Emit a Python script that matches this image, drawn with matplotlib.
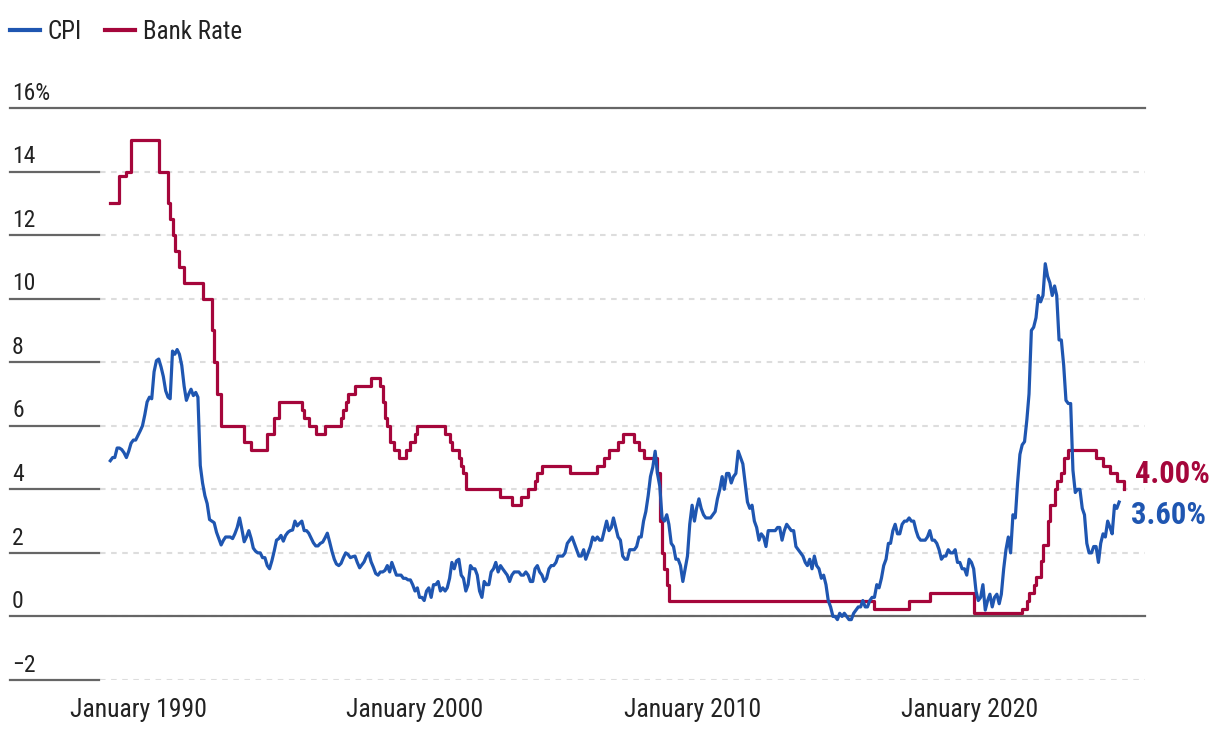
import matplotlib
matplotlib.use('Agg')
import matplotlib.pyplot as plt
import matplotlib.transforms as mtransforms
from matplotlib import font_manager
from matplotlib.lines import Line2D
import numpy as np
import pandas as pd

# UK CPI annual rate, monthly from January 1989
cpi_1989_1999 = [
    4.9, 5.0, 5.0, 5.3, 5.3, 5.25, 5.15, 5.0, 5.2, 5.45, 5.55, 5.55,
    5.7, 5.85, 6.0, 6.35, 6.75, 6.9, 6.85, 7.7, 8.05, 8.1, 7.85, 7.55,
    7.1, 6.9, 6.85, 8.35, 8.25, 8.4, 8.25, 7.9, 7.25, 6.8, 7.0, 7.15,
    6.95, 7.05, 6.9, 4.75, 4.2, 3.8, 3.55, 3.05, 3.0, 2.95, 2.65, 2.45,
    2.25, 2.4, 2.5, 2.5, 2.5, 2.45, 2.6, 2.8, 3.1, 2.75, 2.35, 2.5,
    2.7, 2.45, 2.15, 2.05, 2.0, 2.0, 1.85, 1.85, 1.6, 1.5, 1.75, 2.05,
    2.4, 2.45, 2.55, 2.37, 2.55, 2.65, 2.7, 2.72, 3.0, 2.85, 2.93, 3.0,
    2.7, 2.7, 2.62, 2.47, 2.32, 2.22, 2.22, 2.3, 2.34, 2.47, 2.62, 2.35,
    2.05, 1.8, 1.65, 1.6, 1.67, 1.85, 2.0, 1.95, 1.85, 1.88, 1.9, 1.7,
    1.53, 1.63, 1.72, 1.9, 2.0, 1.72, 1.55, 1.35, 1.3, 1.4, 1.4, 1.45,
    1.6, 1.4, 1.7, 1.5, 1.3, 1.3, 1.3, 1.2, 1.2, 1.15, 1.15, 1.0,
]
cpi_2000_2009 = [
    0.8, 0.9, 0.6, 0.6, 0.5, 0.8, 0.9, 0.6, 1.0, 1.0, 1.1, 0.8,
    0.9, 0.8, 0.9, 1.2, 1.7, 1.5, 1.75, 1.8, 1.3, 1.2, 0.8, 1.0,
    1.6, 1.5, 1.5, 1.3, 0.8, 0.6, 1.1, 1.0, 1.0, 1.4, 1.5, 1.7,
    1.4, 1.6, 1.5, 1.4, 1.3, 1.1, 1.3, 1.4, 1.4, 1.4, 1.3, 1.3,
    1.4, 1.3, 1.1, 1.1, 1.5, 1.6, 1.4, 1.3, 1.1, 1.2, 1.5, 1.6,
    1.6, 1.7, 1.9, 1.9, 1.9, 2.0, 2.3, 2.4, 2.5, 2.3, 2.1, 1.9,
    1.9, 2.1, 1.8, 2.0, 2.2, 2.5, 2.4, 2.5, 2.4, 2.4, 2.7, 3.0,
    2.7, 2.8, 3.1, 2.8, 2.5, 2.4, 1.9, 1.8, 1.8, 2.1, 2.1, 2.1,
    2.2, 2.5, 2.5, 3.0, 3.3, 3.8, 4.4, 4.7, 5.2, 4.5, 4.1, 3.1,
    3.0, 3.2, 2.9, 2.3, 2.2, 1.8, 1.8, 1.6, 1.1, 1.5, 1.9, 2.9,
]
cpi_2010_2019 = [
    3.5, 3.0, 3.4, 3.7, 3.4, 3.2, 3.1, 3.1, 3.1, 3.2, 3.3, 3.7,
    4.0, 4.4, 4.0, 4.5, 4.5, 4.2, 4.4, 4.5, 5.2, 5.0, 4.8, 4.2,
    3.6, 3.4, 3.5, 3.0, 2.8, 2.4, 2.6, 2.5, 2.2, 2.7, 2.7, 2.7,
    2.7, 2.8, 2.8, 2.4, 2.7, 2.9, 2.8, 2.7, 2.7, 2.2, 2.1, 2.0,
    1.9, 1.7, 1.6, 1.8, 1.5, 1.9, 1.6, 1.5, 1.2, 1.3, 1.0, 0.5,
    0.3, 0.0, 0.0, -0.1, 0.1, 0.0, 0.1, 0.0, -0.1, -0.1, 0.1, 0.2,
    0.3, 0.3, 0.5, 0.3, 0.3, 0.5, 0.6, 0.6, 1.0, 0.9, 1.2, 1.6,
    1.8, 2.3, 2.3, 2.7, 2.9, 2.6, 2.6, 2.9, 3.0, 3.0, 3.1, 3.0,
    3.0, 2.7, 2.5, 2.4, 2.4, 2.4, 2.5, 2.7, 2.4, 2.4, 2.3, 2.1,
    1.8, 1.9, 1.9, 2.1, 2.0, 2.0, 2.1, 1.7, 1.7, 1.5, 1.5, 1.3,
]
cpi_2020_2025 = [
    1.8, 1.7, 1.5, 0.8, 0.5, 0.6, 1.0, 0.2, 0.5, 0.7, 0.3, 0.6,
    0.7, 0.4, 0.7, 1.5, 2.1, 2.5, 2.0, 3.2, 3.1, 4.2, 5.1, 5.4,
    5.5, 6.2, 7.0, 9.0, 9.1, 9.4, 10.1, 9.9, 10.1, 11.1, 10.7, 10.5,
    10.1, 10.4, 10.1, 8.7, 8.7, 7.9, 6.8, 6.7, 6.7, 4.6, 3.9, 4.0,
    4.0, 3.4, 3.2, 2.3, 2.0, 2.0, 2.2, 2.2, 1.7, 2.3, 2.6, 2.5,
    3.0, 2.8, 2.6, 3.5, 3.4, 3.6,
]

# Bank Rate: month it changed and new level
bank_months = [
    '1989-01', '1989-05', '1989-08', '1989-10', '1990-10', '1991-02', '1991-03',
    '1991-04', '1991-05', '1991-07', '1991-09', '1992-05', '1992-09', '1992-10',
    '1992-11', '1993-01', '1993-11', '1994-02', '1994-09', '1994-12', '1995-02',
    '1995-12', '1996-01', '1996-03', '1996-06', '1996-10', '1997-05', '1997-06',
    '1997-07', '1997-08', '1997-11', '1998-06', '1998-10', '1998-11', '1998-12',
    '1999-01', '1999-02', '1999-04', '1999-06', '1999-09', '1999-11', '2000-01',
    '2000-02', '2001-02', '2001-04', '2001-05', '2001-08', '2001-09', '2001-10',
    '2001-11', '2003-02', '2003-07', '2003-11', '2004-02', '2004-05', '2004-06',
    '2004-08', '2005-08', '2006-08', '2006-11', '2007-01', '2007-05', '2007-07',
    '2007-12', '2008-02', '2008-04', '2008-10', '2008-11', '2008-12', '2009-01',
    '2009-02', '2009-03', '2016-08', '2017-11', '2018-08', '2020-03', '2021-12',
    '2022-02', '2022-03', '2022-05', '2022-06', '2022-08', '2022-09', '2022-11',
    '2022-12', '2023-02', '2023-03', '2023-05', '2023-06', '2023-08', '2024-08',
    '2024-11', '2025-02', '2025-05', '2025-08',
]
bank_rates = [
    13.0, 13.875, 14.0, 15.0, 14.0, 13.0, 12.5,
    12.0, 11.5, 11.0, 10.5, 10.0, 9.0, 8.0,
    7.0, 6.0, 5.5, 5.25, 5.75, 6.25, 6.75,
    6.5, 6.25, 6.0, 5.75, 6.0, 6.25, 6.5,
    6.75, 7.0, 7.25, 7.5, 7.25, 6.75, 6.25,
    6.0, 5.5, 5.25, 5.0, 5.25, 5.5, 5.75,
    6.0, 5.75, 5.5, 5.25, 5.0, 4.75, 4.5,
    4.0, 3.75, 3.5, 3.75, 4.0, 4.25, 4.5,
    4.75, 4.5, 4.75, 5.0, 5.25, 5.5, 5.75,
    5.5, 5.25, 5.0, 4.5, 3.0, 2.0, 1.5,
    1.0, 0.5, 0.25, 0.5, 0.75, 0.1, 0.25,
    0.5, 0.75, 1.0, 1.25, 1.75, 2.25, 3.0,
    3.5, 4.0, 4.25, 4.5, 5.0, 5.25, 5.0,
    4.75, 4.5, 4.25, 4.0,
]

yticks = [-2, 0, 2, 4, 6, 8, 10, 12, 14, 16]
ylabels = ['\u22122', '0', '2', '4', '6', '8', '10', '12', '14', '16%']
xtick_dates = ['1990-01-01', '2000-01-01', '2010-01-01', '2020-01-01']
xtick_labels = ['January 1990', 'January 2000', 'January 2010', 'January 2020']

blue = '#1f56b1'
red = '#a5063b'
dark = '#222222'

names = {f.name for f in font_manager.fontManager.ttflist}
family = 'DejaVu Sans'
for fam in ['Roboto Condensed', 'Liberation Sans Narrow', 'Arial Narrow', 'Roboto']:
    if fam in names:
        family = fam
        break
plt.rcParams['font.family'] = [family, 'DejaVu Sans']
plt.rcParams['lines.scale_dashes'] = False

cpi = np.array(cpi_1989_1999 + cpi_2000_2009 + cpi_2010_2019 + cpi_2020_2025)
cpi_dates = pd.date_range('1989-01-01', periods=len(cpi), freq='MS')
bank_dates = pd.to_datetime(bank_months)

fig = plt.figure(figsize=(12.2, 7.4), dpi=100)
ax = fig.add_axes([100/1220, 60/740, 1045/1220, 572/740])

ax.plot(bank_dates, bank_rates, drawstyle='steps-post', color=red, lw=2.3, zorder=3)
ax.plot(cpi_dates, cpi, color=blue, lw=2.3, zorder=4, solid_joinstyle='round')

ax.set_ylim(-2, 16)
ax.set_xlim(pd.Timestamp('1988-08-18'), pd.Timestamp('2026-05-08'))
for s in ax.spines.values():
    s.set_visible(False)

ax.set_yticks(yticks)
ax.tick_params(axis='y', left=False, labelleft=False)
ax.grid(axis='y', color='#dddddd', lw=1.5, linestyle=(0, (4, 4)))
ax.set_axisbelow(True)

ax.set_xticks(pd.to_datetime(xtick_dates))
ax.set_xticklabels(xtick_labels)
ax.tick_params(axis='x', length=0, pad=13, labelsize=18.5, labelcolor=dark)

# solid stubs at the left, full solid lines at 0 and 16
trans = mtransforms.blended_transform_factory(fig.transFigure, ax.transData)
for v, lab in zip(yticks, ylabels):
    x1 = 1145/1220 if v in (0, 16) else 99/1220
    ax.add_line(Line2D([10/1220, x1], [v, v], transform=trans, color='#666666',
                       lw=1.6, clip_on=False, zorder=2))
    ax.annotate(lab, xy=(12/1220, v), xycoords=trans, xytext=(0, 6),
                textcoords='offset points', ha='left', va='baseline',
                fontsize=17, color=dark)

ax.annotate('4.00%', xy=(bank_dates[-1], bank_rates[-1]), xytext=(8, 4.5),
            textcoords='offset points', ha='left', va='baseline',
            fontsize=22, fontweight='bold', color=red)
ax.annotate('3.60%', xy=(cpi_dates[-1], cpi[-1]), xytext=(8.5, -15.5),
            textcoords='offset points', ha='left', va='baseline',
            fontsize=22, fontweight='bold', color=blue)

handles = [Line2D([], [], color=blue, lw=3), Line2D([], [], color=red, lw=3)]
fig.legend(handles, ['CPI', 'Bank Rate'], loc='center left',
           bbox_to_anchor=(10/1220, 1 - 32/740), ncol=2, frameon=False,
           fontsize=18, handlelength=1.2, handletextpad=0.32, columnspacing=0.9,
           borderpad=0, borderaxespad=0, labelcolor=dark)

fig.savefig('out.png', dpi=100)
